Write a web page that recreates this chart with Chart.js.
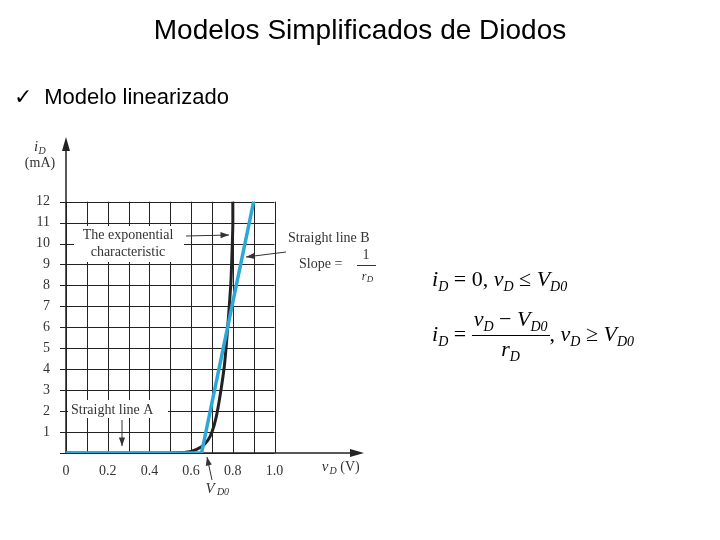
<!DOCTYPE html>
<html>
<head>
<meta charset="utf-8">
<script src="https://cdn.jsdelivr.net/npm/chart.js@4"></script>
<style>
  body { margin: 0; width: 720px; height: 540px; background: #fff; position: relative; overflow: hidden; font-family: "Liberation Sans", Arial, sans-serif; }
  #wrap { position: absolute; left: 0; top: 0; width: 720px; height: 540px; }
  .title { position: absolute; top: 14px; width: 720px; text-align: center; font-size: 28px; }
  .bullet { position: absolute; left: 14px; top: 84px; font-size: 22px; }
  .math { position: absolute; font-family: "Liberation Serif", serif; font-size: 22px; font-style: italic; white-space: nowrap; }
  .math sub { font-size: 14px; font-style: italic; }
  .frac { display: inline-block; vertical-align: middle; text-align: center; }
  .frac .num { display: block; border-bottom: 1px solid #000; padding: 0 2px; }
  .frac .den { display: block; }
</style>
</head>
<body>
<div id="wrap"><canvas id="diodeChart" width="720" height="540"></canvas></div>
<div class="title">Modelos Simplificados de Diodos</div>
<div class="bullet">&#10003;&nbsp; Modelo linearizado</div>
<div class="math" style="left:432px; top:266px;">i<sub>D</sub> <span style="font-style:normal">= 0,</span> v<sub>D</sub> <span style="font-style:normal">&le;</span> V<sub>D0</sub></div>
<div class="math" style="left:432px; top:306px;">i<sub>D</sub> <span style="font-style:normal">=</span> <span class="frac"><span class="num">v<sub>D</sub> <span style="font-style:normal">&minus;</span> V<sub>D0</sub></span><span class="den">r<sub>D</sub></span></span><span style="font-style:normal">,</span> v<sub>D</sub> <span style="font-style:normal">&ge;</span> V<sub>D0</sub></div>
<script>
// Data
const xTickValues = [0, 0.2, 0.4, 0.6, 0.8, 1.0];
const xTickLabels = ['0', '0.2', '0.4', '0.6', '0.8', '1.0'];
const yTickValues = [1, 2, 3, 4, 5, 6, 7, 8, 9, 10, 11, 12];

const expV = [0, 0.5, 0.55, 0.6, 0.65, 0.68, 0.7, 0.72, 0.74, 0.76, 0.77, 0.78, 0.79, 0.795, 0.8, 0.8];
const expI = [0, 0, 0.02, 0.08, 0.3, 0.6, 1.0, 1.7, 2.8, 4.2, 5.3, 6.6, 8.0, 9.2, 10.8, 12];

const lineAV = [0, 0.65];
const lineAI = [0, 0];
const lineBV = [0.65, 0.9];
const lineBI = [0, 12];

const serif = '"Liberation Serif", serif';

function toPoints(xs, ys) {
    return xs.map((x, i) => ({ x: x, y: ys[i] }));
}

// Draw grid box, axes arrows and annotations
const figurePlugin = {
    id: 'figure',
    beforeDatasetsDraw(chart) {
        const ctx = chart.ctx;
        const xs = chart.scales.x, ys = chart.scales.y;
        ctx.save();
        ctx.strokeStyle = '#222';
        ctx.lineWidth = 1;
        for (let v = 0; v <= 10; v++) {
            const px = Math.round(xs.getPixelForValue(v / 10)) + 0.5;
            ctx.beginPath();
            ctx.moveTo(px, ys.getPixelForValue(0));
            ctx.lineTo(px, ys.getPixelForValue(12));
            ctx.stroke();
        }
        for (let v = 0; v <= 12; v++) {
            const py = Math.round(ys.getPixelForValue(v)) + 0.5;
            ctx.beginPath();
            ctx.moveTo(xs.getPixelForValue(0) - 6, py);
            ctx.lineTo(xs.getPixelForValue(1.0), py);
            ctx.stroke();
        }
        // axes
        const x0 = xs.getPixelForValue(0), y0 = ys.getPixelForValue(0);
        ctx.lineWidth = 1.5;
        ctx.beginPath();
        ctx.moveTo(x0, y0); ctx.lineTo(xs.right, y0);
        ctx.moveTo(x0, y0); ctx.lineTo(x0, ys.top);
        ctx.stroke();
        ctx.fillStyle = '#222';
        ctx.beginPath();
        ctx.moveTo(xs.right + 4, y0); ctx.lineTo(xs.right - 10, y0 - 4); ctx.lineTo(xs.right - 10, y0 + 4); ctx.fill();
        ctx.beginPath();
        ctx.moveTo(x0, ys.top - 6); ctx.lineTo(x0 - 4, ys.top + 8); ctx.lineTo(x0 + 4, ys.top + 8); ctx.fill();

        // white label boxes
        ctx.fillStyle = '#fff';
        ctx.fillRect(74, 226, 110, 36);
        ctx.fillRect(68, 400, 100, 18);
        ctx.restore();
    },
    afterDatasetsDraw(chart) {
        const ctx = chart.ctx;
        ctx.save();
        ctx.fillStyle = '#333';
        ctx.strokeStyle = '#333';
        ctx.lineWidth = 1;
        ctx.font = '14px ' + serif;
        ctx.textBaseline = 'middle';
        ctx.textAlign = 'center';
        ctx.fillText('The exponential', 128, 235);
        ctx.fillText('characteristic', 128, 252);
        ctx.textAlign = 'left';
        ctx.fillText('Straight line A', 71, 410);
        ctx.fillText('Straight line B', 288, 238);
        ctx.fillText('Slope =', 299, 264);
        ctx.textAlign = 'center';
        ctx.fillText('1', 366, 255);
        ctx.beginPath(); ctx.moveTo(357, 265.5); ctx.lineTo(376, 265.5); ctx.stroke();
        ctx.font = 'italic 12px ' + serif;
        ctx.fillText('r', 364, 277);
        ctx.font = 'italic 9px ' + serif;
        ctx.fillText('D', 370, 280);
        // axis titles
        ctx.font = 'italic 15px ' + serif;
        ctx.fillText('i', 36, 147);
        ctx.font = 'italic 10px ' + serif;
        ctx.fillText('D', 42, 151);
        ctx.font = '14px ' + serif;
        ctx.fillText('(mA)', 40, 163);
        ctx.font = 'italic 15px ' + serif;
        ctx.fillText('v', 325, 467);
        ctx.font = 'italic 10px ' + serif;
        ctx.fillText('D', 333, 471);
        ctx.font = '14px ' + serif;
        ctx.fillText('(V)', 350, 467);
        ctx.font = 'italic 15px ' + serif;
        ctx.fillText('V', 210, 489);
        ctx.font = 'italic 10px ' + serif;
        ctx.fillText('D0', 223, 492);
        // arrows
        const arrow = (x1, y1, x2, y2) => {
            const a = Math.atan2(y2 - y1, x2 - x1);
            ctx.beginPath(); ctx.moveTo(x1, y1); ctx.lineTo(x2, y2); ctx.stroke();
            ctx.beginPath();
            ctx.moveTo(x2, y2);
            ctx.lineTo(x2 - 9 * Math.cos(a - 0.35), y2 - 9 * Math.sin(a - 0.35));
            ctx.lineTo(x2 - 9 * Math.cos(a + 0.35), y2 - 9 * Math.sin(a + 0.35));
            ctx.fill();
        };
        arrow(186, 236, 229, 235);
        arrow(286, 252, 246, 257);
        arrow(122, 420, 122, 446);
        arrow(212, 480, 207, 457);
        ctx.restore();
    }
};

new Chart(document.getElementById('diodeChart'), {
    type: 'scatter',
    data: {
        datasets: [
            { data: toPoints(expV, expI), showLine: true, borderColor: '#222', borderWidth: 3, pointRadius: 0, tension: 0.2, order: 2 },
            { data: toPoints(lineAV, lineAI), showLine: true, borderColor: '#2ba8d8', borderWidth: 3.5, pointRadius: 0, order: 1 },
            { data: toPoints(lineBV, lineBI), showLine: true, borderColor: '#2ba8d8', borderWidth: 3.5, pointRadius: 0, order: 1 }
        ]
    },
    options: {
        responsive: false,
        animation: false,
        layout: { padding: { left: 36, right: 360, top: 143, bottom: 62 } },
        plugins: { legend: { display: false }, tooltip: { enabled: false } },
        scales: {
            x: {
                type: 'linear', min: 0, max: 1.41,
                grid: { display: false }, border: { display: false },
                afterBuildTicks: s => { s.ticks = xTickValues.map(v => ({ value: v })); },
                afterFit: s => { s.height = 25; },
                ticks: {
                    padding: 2, color: '#333',
                    font: { family: serif, size: 14 },
                    callback: (v) => xTickLabels[xTickValues.indexOf(v)]
                }
            },
            y: {
                type: 'linear', min: 0, max: 14.8,
                grid: { display: false }, border: { display: false },
                afterBuildTicks: s => { s.ticks = yTickValues.map(v => ({ value: v })); },
                afterFit: s => { s.width = 30; },
                ticks: { padding: 8, color: '#333', font: { family: serif, size: 14 } }
            }
        }
    },
    plugins: [figurePlugin]
});
</script>
</body>
</html>
